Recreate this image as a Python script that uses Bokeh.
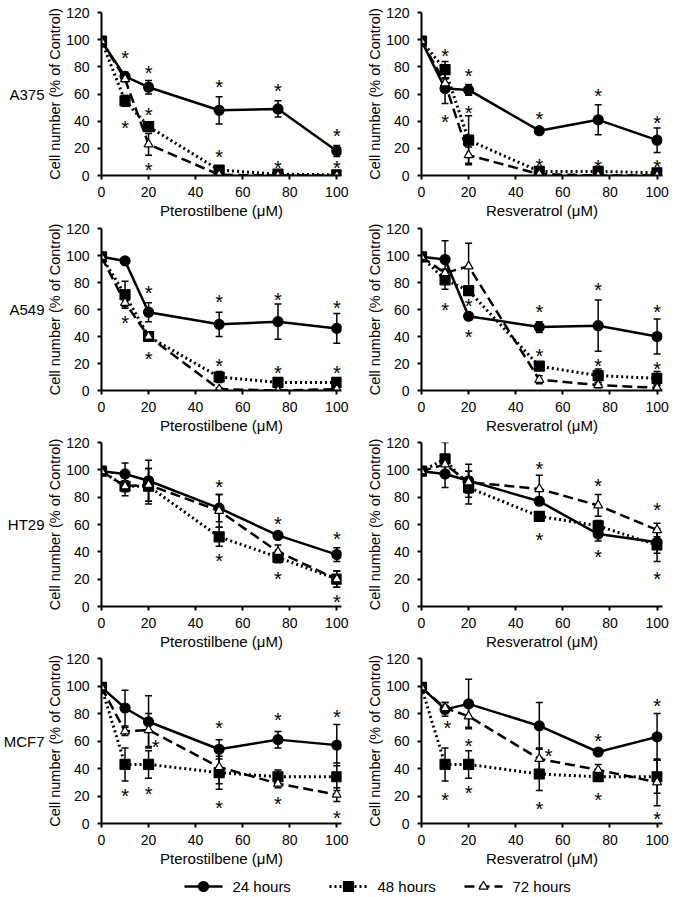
from bokeh.plotting import figure
from bokeh.layouts import column, row
from bokeh.models import Range1d, FixedTicker, Whisker, TeeHead, ColumnDataSource, LinearAxis
from bokeh.embed import file_html
from bokeh.resources import INLINE
from bokeh.core.properties import value

FONT = "Liberation Sans"

# ---------------- data ----------------
conc = [0, 10, 20, 50, 75, 100]
x_ticks = [0, 20, 40, 60, 80, 100]
y_ticks = [0, 20, 40, 60, 80, 100, 120]
series_labels = ["24 hours", "48 hours", "72 hours"]
cell_lines = ["A375", "A549", "HT29", "MCF7"]
compounds = ["Pterostilbene (\u03bcM)", "Resveratrol (\u03bcM)"]

# A375 - Pterostilbene
a375_pt_24 = [99, 73, 65, 48, 49, 18]
a375_pt_24_err = [0, 3, 5, 10, 6, 4]
a375_pt_48 = [99, 55, 36, 4, 1, 0.5]
a375_pt_48_err = [0, 4, 2, 2, 1, 1]
a375_pt_72 = [99, 71, 23, 0.5, 0, 0]
a375_pt_72_err = [0, 2, 8, 1, 0, 0]
a375_pt_star_x = [10, 10, 20, 20, 20, 50, 50, 75, 75, 100, 100]
a375_pt_star_y = [90, 39, 79, 48, 8, 69, 17, 66, 9, 33, 9]

# A375 - Resveratrol
a375_rs_24 = [99, 64, 63, 33, 41, 26]
a375_rs_24_err = [0, 11, 4, 2, 11, 9]
a375_rs_48 = [99, 78, 26, 3, 3, 2]
a375_rs_48_err = [0, 6, 18, 1, 1, 1]
a375_rs_72 = [99, 68, 15, 1, 0, 0]
a375_rs_72_err = [0, 3, 6, 1, 0, 0]
a375_rs_star_x = [10, 10, 20, 20, 50, 50, 75, 75, 100, 100]
a375_rs_star_y = [92, 43, 77, 50, 45, 11, 62, 10, 42, 10]

# A549 - Pterostilbene
a549_pt_24 = [99, 96, 58, 49, 51, 46]
a549_pt_24_err = [0, 1, 7, 9, 13, 11]
a549_pt_48 = [99, 71, 40, 10, 6, 6]
a549_pt_48_err = [0, 10, 3, 4, 2, 2]
a549_pt_72 = [99, 65, 40, 1, 0, 1]
a549_pt_72_err = [0, 3, 3, 1, 1, 1]
a549_pt_star_x = [10, 20, 20, 50, 50, 75, 75, 100, 100]
a549_pt_star_y = [54, 76, 27, 69, 22, 71, 17, 65, 17]

# A549 - Resveratrol
a549_rs_24 = [99, 97, 55, 47, 48, 40]
a549_rs_24_err = [0, 14, 2, 4, 19, 13]
a549_rs_48 = [99, 82, 74, 18, 11, 9]
a549_rs_48_err = [0, 7, 2, 2, 5, 5]
a549_rs_72 = [99, 87, 92, 8, 4, 2]
a549_rs_72_err = [0, 3, 17, 3, 2, 2]
a549_rs_star_x = [10, 20, 20, 50, 50, 75, 75, 100, 100]
a549_rs_star_y = [63, 66, 43, 62, 29, 78, 22, 62, 20]

# HT29 - Pterostilbene
ht29_pt_24 = [99, 97, 92, 72, 52, 38]
ht29_pt_24_err = [0, 8, 15, 10, 2, 5]
ht29_pt_48 = [99, 88, 88, 51, 36, 20]
ht29_pt_48_err = [0, 7, 13, 7, 4, 6]
ht29_pt_72 = [99, 88, 89, 70, 40, 20]
ht29_pt_72_err = [0, 4, 12, 12, 5, 6]
ht29_pt_star_x = [50, 50, 75, 75, 100, 100]
ht29_pt_star_y = [91, 37, 64, 24, 53, 7]

# HT29 - Resveratrol
ht29_rs_24 = [99, 97, 92, 77, 53, 47]
ht29_rs_24_err = [0, 10, 12, 3, 5, 8]
ht29_rs_48 = [99, 108, 87, 66, 59, 45]
ht29_rs_48_err = [0, 12, 12, 3, 4, 12]
ht29_rs_72 = [99, 104, 91, 86, 74, 56]
ht29_rs_72_err = [0, 5, 8, 10, 8, 5]
ht29_rs_star_x = [50, 50, 75, 75, 100, 100]
ht29_rs_star_y = [104, 52, 92, 40, 74, 24]

# MCF7 - Pterostilbene
mcf7_pt_24 = [99, 84, 74, 54, 61, 57]
mcf7_pt_24_err = [0, 13, 19, 7, 6, 15]
mcf7_pt_48 = [99, 43, 43, 37, 34, 34]
mcf7_pt_48_err = [0, 12, 10, 12, 5, 10]
mcf7_pt_72 = [99, 67, 68, 41, 29, 21]
mcf7_pt_72_err = [0, 3, 12, 12, 3, 5]
mcf7_pt_star_x = [10, 20, 23, 50, 50, 75, 75, 100, 100]
mcf7_pt_star_y = [24, 25, 59, 73, 15, 79, 18, 81, 8]

# MCF7 - Resveratrol
mcf7_rs_24 = [99, 83, 87, 71, 52, 63]
mcf7_rs_24_err = [0, 5, 18, 17, 2, 17]
mcf7_rs_48 = [99, 43, 43, 36, 34, 34]
mcf7_rs_48_err = [0, 12, 10, 12, 3, 12]
mcf7_rs_72 = [99, 84, 78, 47, 39, 30]
mcf7_rs_72_err = [0, 4, 8, 8, 4, 17]
mcf7_rs_star_x = [11, 10, 20, 20, 54, 50, 75, 75, 100, 100]
mcf7_rs_star_y = [73, 21, 60, 26, 53, 14, 64, 21, 89, 7]

panels = [
    ("A375", [(a375_pt_24, a375_pt_24_err), (a375_pt_48, a375_pt_48_err), (a375_pt_72, a375_pt_72_err)], a375_pt_star_x, a375_pt_star_y,
     [(a375_rs_24, a375_rs_24_err), (a375_rs_48, a375_rs_48_err), (a375_rs_72, a375_rs_72_err)], a375_rs_star_x, a375_rs_star_y),
    ("A549", [(a549_pt_24, a549_pt_24_err), (a549_pt_48, a549_pt_48_err), (a549_pt_72, a549_pt_72_err)], a549_pt_star_x, a549_pt_star_y,
     [(a549_rs_24, a549_rs_24_err), (a549_rs_48, a549_rs_48_err), (a549_rs_72, a549_rs_72_err)], a549_rs_star_x, a549_rs_star_y),
    ("HT29", [(ht29_pt_24, ht29_pt_24_err), (ht29_pt_48, ht29_pt_48_err), (ht29_pt_72, ht29_pt_72_err)], ht29_pt_star_x, ht29_pt_star_y,
     [(ht29_rs_24, ht29_rs_24_err), (ht29_rs_48, ht29_rs_48_err), (ht29_rs_72, ht29_rs_72_err)], ht29_rs_star_x, ht29_rs_star_y),
    ("MCF7", [(mcf7_pt_24, mcf7_pt_24_err), (mcf7_pt_48, mcf7_pt_48_err), (mcf7_pt_72, mcf7_pt_72_err)], mcf7_pt_star_x, mcf7_pt_star_y,
     [(mcf7_rs_24, mcf7_rs_24_err), (mcf7_rs_48, mcf7_rs_48_err), (mcf7_rs_72, mcf7_rs_72_err)], mcf7_rs_star_x, mcf7_rs_star_y),
]

# ---------------- layout / styles ----------------
LINE_DASH = ["solid", "2 3", "10 5"]
LINE_W = [2.5, 3, 2.5]
MARKERS = ["circle", "square", "triangle"]
FILLS = ["black", "black", "white"]
SIZES = [10, 10, 9]
# (top border, frame height, bottom border) for each row of panels
ROW_GEOM = [(12, 164, 45), (7, 164, 44), (6, 165, 45), (6, 165, 46)]


def style_axis(ax, ticks):
    ax.ticker = FixedTicker(ticks=ticks)
    ax.axis_line_width = 2
    ax.axis_line_color = "black"
    ax.major_tick_line_width = 2
    ax.major_tick_line_color = "black"
    ax.major_tick_out = 4
    ax.major_tick_in = 0
    ax.minor_tick_line_color = None
    ax.major_label_text_font = FONT
    ax.major_label_text_font_size = "14px"
    ax.major_label_text_color = "black"
    ax.axis_label_text_font = FONT
    ax.axis_label_text_font_size = "15px"
    ax.axis_label_text_font_style = "normal"
    ax.axis_label_text_color = "black"


def make_panel(series, star_x, star_y, xlabel, left, geom, cell=None):
    top, fh, bot = geom
    if left:
        w, bl, br, xend = 351, 101, 10, 102
    else:
        w, bl, br, xend = 321, 70, 10, 102.3
    p = figure(width=w, height=top + fh + bot, output_backend="svg", toolbar_location=None,
               x_range=Range1d(0, xend), y_range=Range1d(0, 120),
               min_border_left=bl, min_border_right=br, min_border_top=top, min_border_bottom=bot)
    p.outline_line_color = None
    p.xgrid.visible = False
    p.ygrid.visible = False
    p.background_fill_color = "white"
    p.border_fill_color = "white"

    style_axis(p.xaxis[0], x_ticks)
    style_axis(p.yaxis[0], y_ticks)
    p.xaxis.major_label_standoff = 7
    p.xaxis.axis_label = xlabel
    p.xaxis.axis_label_standoff = 2
    p.yaxis.major_label_standoff = 8
    p.yaxis.axis_label = "Cell number (% of Control)"
    p.yaxis.axis_label_text_font_size = "14.5px"
    p.yaxis.axis_label_standoff = 0

    if cell is not None:
        cax = LinearAxis(axis_label=cell, axis_label_orientation="horizontal",
                         ticker=FixedTicker(ticks=[]), axis_line_color=None,
                         major_tick_line_color=None, minor_tick_line_color=None,
                         major_label_text_font_size="0px", axis_label_standoff=0,
                         axis_label_text_font=FONT, axis_label_text_font_size="15px",
                         axis_label_text_font_style="normal", axis_label_text_color="black")
        p.add_layout(cax, "left")

    # error bars
    for (mean, err) in series:
        xs = [c for c, e in zip(conc, err) if e > 0]
        up = [m + e for m, e in zip(mean, err) if e > 0]
        lo = [m - e for m, e in zip(mean, err) if e > 0]
        src = ColumnDataSource(dict(x=xs, up=up, lo=lo))
        wk = Whisker(source=src, base="x", upper="up", lower="lo", dimension="height",
                     line_width=1.5, line_color="black",
                     upper_head=TeeHead(size=7, line_width=1.5, line_color="black"),
                     lower_head=TeeHead(size=7, line_width=1.5, line_color="black"))
        p.add_layout(wk)

    # lines
    for i, (mean, err) in enumerate(series):
        p.line(conc, mean, line_width=LINE_W[i], line_color="black", line_dash=LINE_DASH[i])
    # markers
    for i, (mean, err) in enumerate(series):
        p.scatter(conc, mean, marker=MARKERS[i], size=SIZES[i], fill_color=FILLS[i],
                  line_color="black", line_width=1.2)

    # significance asterisks
    p.text(star_x, star_y, text=["*"] * len(star_x), text_align="center",
           text_baseline="middle", text_font=value(FONT), text_font_size="20px",
           text_color="black", y_offset=5)
    return p


rows = []
for (cell, s_pt, sx_pt, sy_pt, s_rs, sx_rs, sy_rs), geom in zip(panels, ROW_GEOM):
    pl = make_panel(s_pt, sx_pt, sy_pt, compounds[0], True, geom, cell)
    pr = make_panel(s_rs, sx_rs, sy_rs, compounds[1], False, geom)
    rows.append(row(pl, pr))

# ---------------- legend ----------------
LEG_H = 26
leg = figure(width=672, height=LEG_H, output_backend="svg", toolbar_location=None,
             x_range=Range1d(0, 672), y_range=Range1d(0, LEG_H),
             min_border=0, min_border_left=0, min_border_right=0, min_border_top=0, min_border_bottom=0)
leg.axis.visible = False
leg.xgrid.visible = False
leg.ygrid.visible = False
leg.outline_line_color = None
leg_centers = [203, 348, 483]
leg_y = LEG_H - 17
for i, lab in enumerate(series_labels):
    cx = leg_centers[i]
    leg.line([cx - 19, cx + 19], [leg_y, leg_y], line_width=LINE_W[i], line_color="black", line_dash=LINE_DASH[i])
    leg.scatter([cx], [leg_y], marker=MARKERS[i], size=SIZES[i], fill_color=FILLS[i],
                line_color="black", line_width=1.2)
    leg.text([cx + 29], [leg_y], text=[lab], text_align="left", text_baseline="middle",
             text_font=value(FONT), text_font_size="15px", text_color="black")

layout = column(*rows, leg)

open("out.html", "w").write(file_html(layout, INLINE))
